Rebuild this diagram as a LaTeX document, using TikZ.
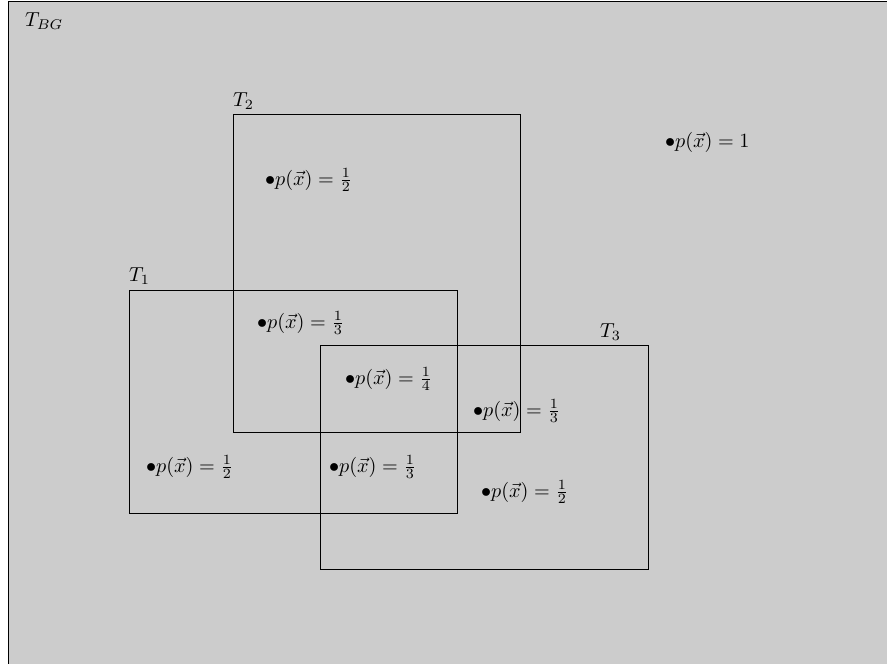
\documentclass[tikz,border=0pt]{standalone}
\begin{document}
\begin{tikzpicture}[x=0.495pt,y=-0.495pt,
  lbl/.style={anchor=base west,inner sep=0pt,outer sep=0pt},
  region/.style={draw=black,line width=0.4pt}]
\useasboundingbox (0,0) rectangle (887,663);
\fill[black!20] (8.5,1) rectangle (890,666);
\draw[line width=0.4pt] (8.5,666) -- (8.5,1) -- (890,1);
% regions
\draw[region] (233,114) rectangle (520,432);
\draw[region] (129,290) rectangle (457,513);
\draw[region] (320,345) rectangle (648,569);
% labels
\node[lbl] (tbg) at (25,26) {$T_{BG}$};
\node[lbl] (t2) at (233,106) {$T_2$};
\node[lbl] (t1) at (129,281) {$T_1$};
\node[lbl] (t3) at (600,337) {$T_3$};
% probabilities
\node[lbl] (p1) at (665,147) {$\bullet p(\vec{x}) = 1$};
\node[lbl] (p2) at (265,185) {$\bullet p(\vec{x}) = \frac{1}{2}$};
\node[lbl] (p12) at (257,328) {$\bullet p(\vec{x}) = \frac{1}{3}$};
\node[lbl] (p123) at (345,384) {$\bullet p(\vec{x}) = \frac{1}{4}$};
\node[lbl] (p23) at (473,416) {$\bullet p(\vec{x}) = \frac{1}{3}$};
\node[lbl] (pt1) at (146,472) {$\bullet p(\vec{x}) = \frac{1}{2}$};
\node[lbl] (p13) at (329,472) {$\bullet p(\vec{x}) = \frac{1}{3}$};
\node[lbl] (pt3) at (481,497) {$\bullet p(\vec{x}) = \frac{1}{2}$};
\end{tikzpicture}
\end{document}
